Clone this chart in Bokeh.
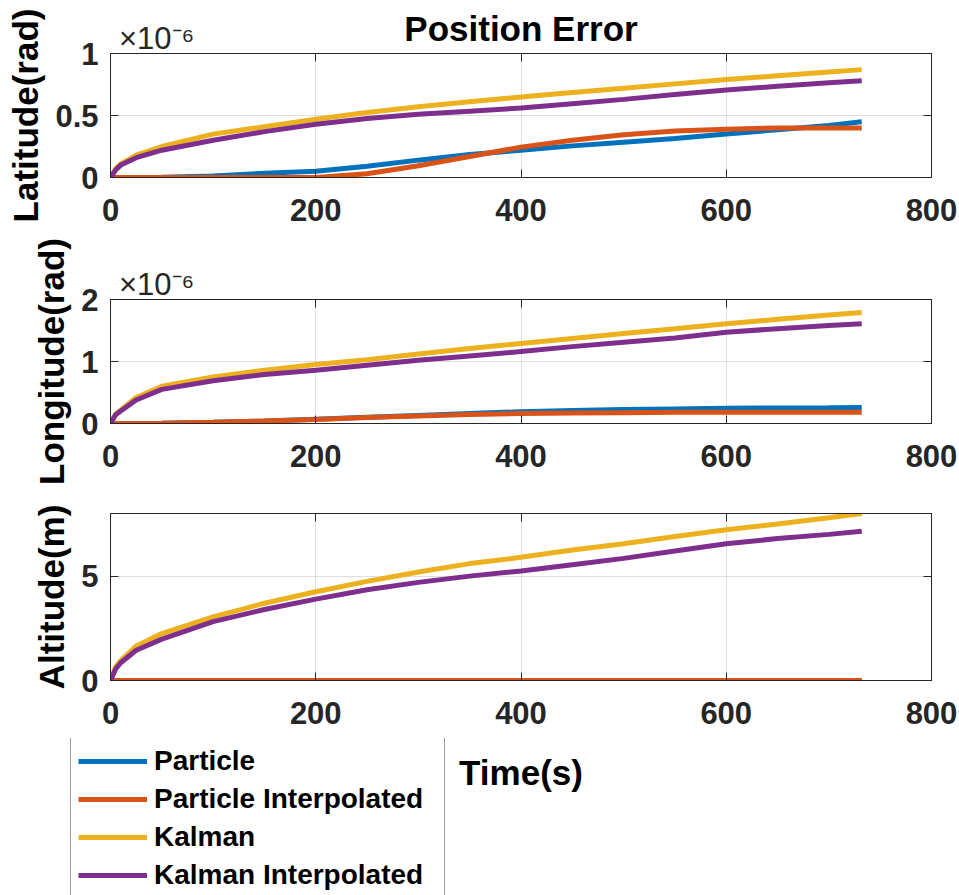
from bokeh.plotting import figure
from bokeh.models import (Range1d, LinearAxis, Legend, LegendItem, Label,
                          FixedTicker, NumeralTickFormatter, CustomJSTickFormatter)
from bokeh.layouts import column
from bokeh.embed import file_html
from bokeh.resources import INLINE

# ---------------- data ----------------
time_s = [0, 5, 10, 25, 50, 100, 150, 200, 250, 300, 350, 400, 450, 500, 550, 600, 650, 700, 732]

# Latitude error (x 1e-6 rad)
lat_particle = [0, 0, 0, 0.001, 0.003, 0.012, 0.035, 0.05, 0.09, 0.14, 0.185, 0.22, 0.255, 0.285, 0.315, 0.35, 0.385, 0.42, 0.45]
lat_particle_interp = [0, 0, 0, 0, 0, 0, 0, 0, 0.03, 0.095, 0.17, 0.245, 0.30, 0.345, 0.375, 0.39, 0.40, 0.40, 0.40]
lat_kalman = [0, 0.07, 0.11, 0.18, 0.25, 0.35, 0.41, 0.47, 0.525, 0.57, 0.61, 0.65, 0.685, 0.72, 0.755, 0.79, 0.82, 0.85, 0.87]
lat_kalman_interp = [0, 0.06, 0.10, 0.16, 0.22, 0.30, 0.37, 0.43, 0.475, 0.51, 0.535, 0.56, 0.595, 0.63, 0.67, 0.705, 0.735, 0.765, 0.78]

# Longitude error (x 1e-6 rad)
lon_particle = [0, 0, 0, 0.002, 0.005, 0.02, 0.04, 0.07, 0.10, 0.13, 0.16, 0.19, 0.21, 0.225, 0.235, 0.245, 0.25, 0.255, 0.26]
lon_particle_interp = [0, 0, 0, 0.002, 0.005, 0.02, 0.04, 0.065, 0.095, 0.12, 0.145, 0.16, 0.17, 0.175, 0.18, 0.18, 0.18, 0.18, 0.18]
lon_kalman = [0, 0.15, 0.22, 0.42, 0.60, 0.75, 0.86, 0.95, 1.03, 1.12, 1.21, 1.29, 1.37, 1.45, 1.53, 1.61, 1.68, 1.75, 1.79]
lon_kalman_interp = [0, 0.14, 0.20, 0.38, 0.55, 0.69, 0.79, 0.86, 0.94, 1.02, 1.09, 1.16, 1.24, 1.31, 1.38, 1.47, 1.53, 1.58, 1.61]

# Altitude error (m)
alt_particle = [0] * 19
alt_particle_interp = [0] * 19
alt_kalman = [0, 0.65, 0.95, 1.65, 2.25, 3.05, 3.7, 4.25, 4.75, 5.2, 5.6, 5.9, 6.25, 6.55, 6.9, 7.22, 7.5, 7.8, 8.0]
alt_kalman_interp = [0, 0.55, 0.85, 1.45, 1.98, 2.82, 3.4, 3.9, 4.35, 4.7, 5.0, 5.25, 5.55, 5.85, 6.2, 6.55, 6.8, 7.0, 7.15]

series_names = ["Particle", "Particle Interpolated", "Kalman", "Kalman Interpolated"]
series_colors = ["#0072BD", "#D95319", "#EDB120", "#7E2F8E"]
x_ticks = [0, 200, 400, 600, 800]
title_text = "Position Error"
x_label = "Time(s)"

FONT = "Liberation Sans"
AX = "#262626"


def style_axis(ax):
    ax.axis_line_color = AX
    ax.axis_line_width = 1
    ax.major_tick_line_color = AX
    ax.major_tick_in = 8
    ax.major_tick_out = 0
    ax.minor_tick_line_color = None
    ax.major_label_text_font = FONT
    ax.major_label_text_font_style = "bold"
    ax.major_label_text_font_size = "31px"
    ax.major_label_text_color = AX
    ax.axis_label_text_font = FONT
    ax.axis_label_text_font_style = "bold"
    ax.axis_label_text_font_size = "35px"
    ax.axis_label_text_color = "#000000"


def frame_axis(ticks):
    # box edge with inward tick marks only (no labels)
    ax = LinearAxis(ticker=FixedTicker(ticks=[], minor_ticks=ticks))
    ax.axis_line_color = AX
    ax.major_tick_line_color = None
    ax.minor_tick_line_color = AX
    ax.minor_tick_in = 8
    ax.minor_tick_out = 0
    ax.major_label_standoff = 0
    return ax


def make_panel(height, top, bottom, ymax, yticks, ylabel, ydata,
               exponent=True, title=None):
    p = figure(width=959, height=height, output_backend="svg", toolbar_location=None,
               x_range=Range1d(0, 800), y_range=Range1d(0, ymax),
               min_border_left=110, min_border_right=28,
               min_border_top=top, min_border_bottom=bottom)
    p.background_fill_color = "white"
    p.border_fill_color = "white"
    p.outline_line_color = AX
    for name, col, ys in zip(series_names, series_colors, ydata):
        p.line(time_s, ys, line_color=col, line_width=5)

    bx = p.below[0]
    ly = p.left[0]
    bx.ticker = FixedTicker(ticks=x_ticks)
    ly.ticker = FixedTicker(ticks=yticks)
    ly.formatter = NumeralTickFormatter(format="0.[0]")
    style_axis(bx)
    style_axis(ly)
    bx.major_label_standoff = 21
    ly.major_label_standoff = 12
    ly.axis_label = ylabel
    ly.axis_label_standoff = 7

    if exponent:
        tx = LinearAxis(ticker=FixedTicker(ticks=[45], minor_ticks=x_ticks))
        tx.axis_line_color = AX
        tx.major_tick_line_color = None
        tx.minor_tick_line_color = AX
        tx.minor_tick_in = 8
        tx.minor_tick_out = 0
        tx.formatter = CustomJSTickFormatter(code="return '\\u00d710\\u207b\\u2076';")
        tx.major_label_text_font = FONT
        tx.major_label_text_font_size = "31px"
        tx.major_label_text_color = AX
        tx.major_label_standoff = -8
        if title:
            tx.axis_label = title
            tx.axis_label_text_font = FONT
            tx.axis_label_text_font_style = "bold"
            tx.axis_label_text_font_size = "35px"
            tx.axis_label_text_color = "#000000"
            tx.axis_label_standoff = -30
    else:
        tx = frame_axis(x_ticks)
    p.add_layout(tx, "above")
    p.add_layout(frame_axis(yticks), "right")

    p.xgrid.grid_line_color = AX
    p.xgrid.grid_line_alpha = 0.15
    p.ygrid.grid_line_color = AX
    p.ygrid.grid_line_alpha = 0.15
    return p


p1 = make_panel(234, 53, 57, 1, [0, 0.5, 1], "Latitude(rad)",
                [lat_particle, lat_particle_interp, lat_kalman, lat_kalman_interp],
                title=title_text)
p2 = make_panel(260, 65, 71, 2, [0, 1, 2], "Longitude(rad)",
                [lon_particle, lon_particle_interp, lon_kalman, lon_kalman_interp])
p3 = make_panel(244, 19, 58, 8, [0, 5], "Altitude(m)",
                [alt_particle, alt_particle_interp, alt_kalman, alt_kalman_interp],
                exponent=False)

# bottom strip (pixel coordinates): x-axis title of the last panel and the legend
p4 = figure(width=959, height=157, output_backend="svg", toolbar_location=None,
            x_range=Range1d(0, 959), y_range=Range1d(0, 157),
            x_axis_type=None, y_axis_type=None,
            min_border_left=0, min_border_right=0, min_border_top=0, min_border_bottom=0)
p4.outline_line_color = None
p4.grid.visible = False
p4.background_fill_color = "white"
p4.border_fill_color = "white"
p4.extra_y_ranges = {"offscreen": Range1d(1000, 1001)}
alt_series = [alt_particle, alt_particle_interp, alt_kalman, alt_kalman_interp]
proxies = [p4.line(time_s, ys, line_color=c, line_width=5, y_range_name="offscreen")
           for c, ys in zip(series_colors, alt_series)]

p4.add_layout(Label(x=520.5, y=123, text=x_label, text_align="center",
                    text_baseline="alphabetic", text_font=FONT, text_font_size="35px",
                    text_font_style="bold", text_color="#000000"))

legend = Legend(items=[LegendItem(label=n, renderers=[r]) for n, r in zip(series_names, proxies)],
                location=(70, -4))
legend.label_text_font = FONT
legend.label_text_font_style = "bold"
legend.label_text_font_size = "28px"
legend.label_text_color = "#000000"
legend.glyph_width = 69
legend.glyph_height = 32
legend.label_height = 32
legend.label_width = 283
legend.spacing = 6
legend.padding = 7
legend.margin = 0
legend.label_standoff = 7
legend.border_line_color = "#3c3c3c"
legend.border_line_width = 1
legend.background_fill_color = "white"
legend.background_fill_alpha = 1
p4.add_layout(legend, "center")

layout = column(p1, p2, p3, spacing=0)
with open("out.html", "w", encoding="utf-8") as f:
    f.write(file_html([layout, p4], INLINE))
